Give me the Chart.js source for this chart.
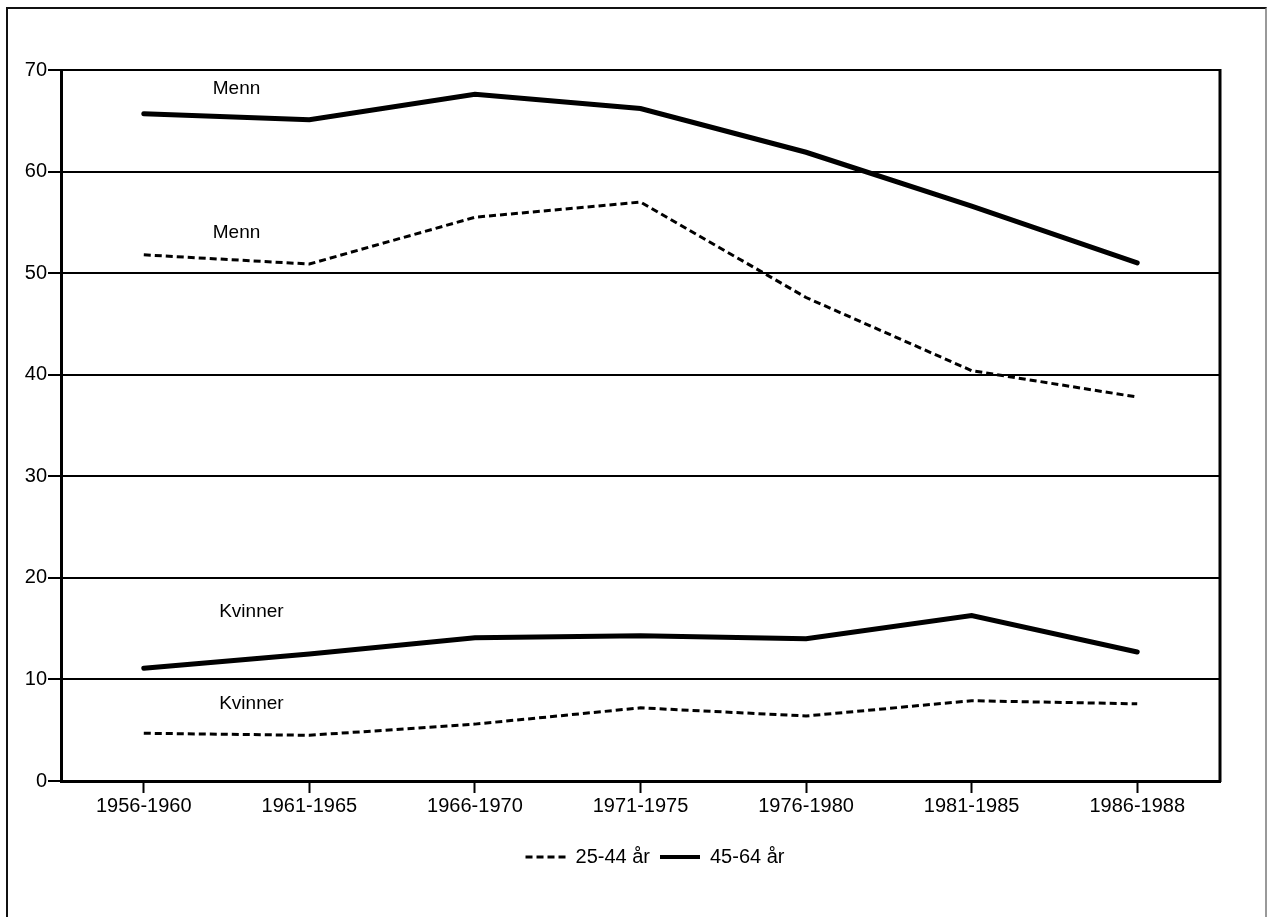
<!DOCTYPE html>
<html>
<head>
<meta charset="utf-8">
<script src="https://cdn.jsdelivr.net/npm/chart.js@4.4.1/dist/chart.umd.min.js"></script>
<style>
  html, body { margin: 0; padding: 0; background: #fff; overflow: hidden; }
  #wrap { position: relative; width: 1267px; height: 917px; }
  #frame { position: absolute; left: 6px; top: 7px; width: 1257px; height: 960px;
           border: 2px solid #111; border-right-color: #999; }
  canvas { position: absolute; left: 0; top: 0; }
</style>
</head>
<body>
<div id="wrap">
  <div id="frame"></div>
  <canvas id="canvas" width="1267" height="917"></canvas>
</div>
<script>
// periods on the x axis
var periods = ['1956-1960', '1961-1965', '1966-1970', '1971-1975', '1976-1980', '1981-1985', '1986-1988'];

// 25-44 år (dashed) and 45-64 år (solid), men and women
var menn_25_44 = [51.8, 50.9, 55.5, 57.0, 47.6, 40.4, 37.8];
var menn_45_64 = [65.7, 65.1, 67.6, 66.2, 61.9, 56.6, 51.0];
var kvinner_25_44 = [4.7, 4.5, 5.6, 7.2, 6.4, 7.9, 7.6];
var kvinner_45_64 = [11.1, 12.5, 14.1, 14.3, 14.0, 16.3, 12.7];

// text labels inside the plot: [text, category position, value]
var notes = [
    ['Menn', 0.56, 68.2],
    ['Menn', 0.56, 54.0],
    ['Kvinner', 0.65, 16.7],
    ['Kvinner', 0.65, 7.6]
];

var FONT = '"Liberation Sans", Arial, Helvetica, sans-serif';

var notesPlugin = {
    id: 'notes',
    afterLayout: function(chart) {
        // legend in the original sits a bit right of the middle
        if (chart.legend) {
            chart.legend.left += 90;
        }
    },
    afterDatasetsDraw: function(chart) {
        var ctx = chart.ctx;
        var xs = chart.scales.x, ys = chart.scales.y;
        ctx.save();
        ctx.fillStyle = '#000';
        ctx.font = '19px ' + FONT;
        ctx.textAlign = 'center';
        ctx.textBaseline = 'middle';
        notes.forEach(function(n) {
            ctx.fillText(n[0], xs.getPixelForValue(n[1]), ys.getPixelForValue(n[2]));
        });
        // right edge of the plot box
        var a = chart.chartArea;
        ctx.strokeStyle = '#000';
        ctx.lineWidth = 3;
        ctx.beginPath();
        ctx.moveTo(a.right, a.top - 1);
        ctx.lineTo(a.right, a.bottom + 1);
        ctx.stroke();
        ctx.restore();
    }
};

function dashed(label, data, show) {
    return {
        label: label,
        data: data,
        borderColor: '#000',
        backgroundColor: '#000',
        borderWidth: 3,
        borderDash: [7, 4],
        pointRadius: 0,
        fill: false,
        tension: 0,
        showInLegend: show
    };
}

function solid(label, data, show) {
    return {
        label: label,
        data: data,
        borderColor: '#000',
        backgroundColor: '#000',
        borderWidth: 5,
        borderCapStyle: 'round',
        pointRadius: 0,
        fill: false,
        tension: 0,
        showInLegend: show
    };
}

var config = {
    type: 'line',
    data: {
        labels: periods,
        datasets: [
            dashed('25-44 år', menn_25_44, true),
            solid('45-64 år', menn_45_64, true),
            dashed('25-44 år kvinner', kvinner_25_44, false),
            solid('45-64 år kvinner', kvinner_45_64, false)
        ]
    },
    options: {
        responsive: false,
        animation: false,
        layout: {
            padding: {left: 0, right: 47, top: 70, bottom: 40}
        },
        scales: {
            x: {
                offset: true,
                grid: {
                    drawOnChartArea: false,
                    drawTicks: true,
                    tickLength: 12,
                    tickColor: '#000',
                    tickWidth: 2
                },
                border: {color: '#000', width: 3},
                ticks: {
                    color: '#000',
                    font: {family: FONT, size: 20},
                    padding: 1,
                    maxRotation: 0,
                    autoSkip: false
                },
                afterFit: function(scale) { scale.height = 56; }
            },
            y: {
                min: 0,
                max: 70,
                ticks: {
                    stepSize: 10,
                    color: '#000',
                    font: {family: FONT, size: 20},
                    padding: 1
                },
                grid: {
                    color: '#000',
                    lineWidth: 2,
                    tickLength: 13,
                    tickColor: '#000',
                    tickWidth: 2
                },
                border: {color: '#000', width: 3},
                afterFit: function(scale) { scale.width = 61; }
            }
        },
        plugins: {
            tooltip: {enabled: false},
            legend: {
                position: 'bottom',
                labels: {
                    color: '#000',
                    font: {family: FONT, size: 20},
                    usePointStyle: true,
                    pointStyle: 'line',
                    pointStyleWidth: 40,
                    padding: 10,
                    generateLabels: function(chart) {
                        var items = Chart.defaults.plugins.legend.labels.generateLabels(chart);
                        return items.filter(function(item) {
                            return chart.data.datasets[item.datasetIndex].showInLegend;
                        }).map(function(item) {
                            var ds = chart.data.datasets[item.datasetIndex];
                            item.lineDash = ds.borderDash || [];
                            item.lineWidth = ds.borderWidth === 5 ? 4 : 3;
                            item.strokeStyle = '#000';
                            return item;
                        });
                    }
                }
            }
        }
    },
    plugins: [notesPlugin]
};

window.onload = function() {
    var ctx = document.getElementById('canvas').getContext('2d');
    window.myLine = new Chart(ctx, config);
};
</script>
</body>
</html>
